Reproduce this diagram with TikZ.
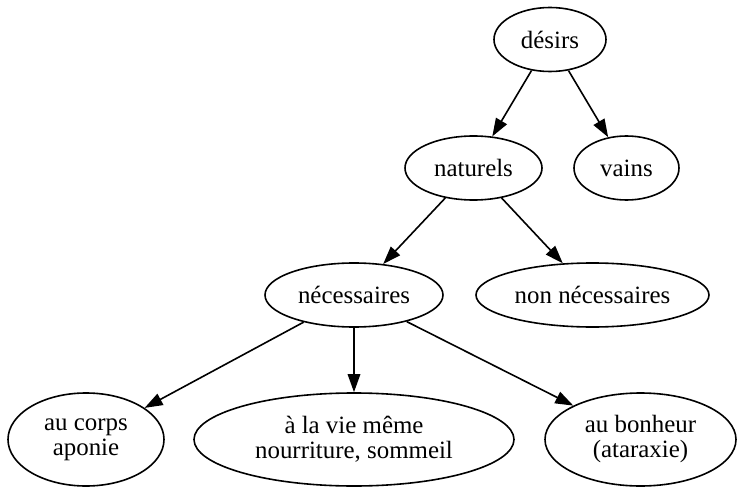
\documentclass[tikz,border=0pt]{standalone}
\usepackage{fontspec}
\setmainfont{Liberation Serif}
\newfontfamily\desirfont{Liberation Serif}
\usetikzlibrary{arrows.meta,shapes.geometric}

\begin{document}
\begin{tikzpicture}
    [ x=1pt, y=-1pt
    , desir/.style={draw, ellipse, inner sep=0pt, line width=1.6pt, align=center, font=\desirfont\fontsize{24.9}{25}\selectfont}
    , wide/.style={minimum width=#1, minimum height=64pt}
    , tall/.style={minimum width=#1, minimum height=93pt}
    , branch/.style={line width=1.6pt, -{Triangle[length=18pt,width=12.5pt]}}
    ]
  \useasboundingbox (0,0) rectangle (737,487);
  % les noeuds
  \node[desir, wide=112pt] (desirs) at (550,39.5) {désirs};
  \node[desir, wide=137pt] (naturels) at (473.5,168) {naturels};
  \node[desir, wide=105pt] (vains) at (626.5,168) {vains};
  \node[desir, wide=178pt] (necessaires) at (354,295) {nécessaires};
  \node[desir, wide=233pt] (nonnecessaires) at (592.5,295) {non nécessaires};
  \node[desir, tall=156pt] (corps) at (86,439.5) {au corps\\aponie};
  \node[desir, tall=320pt] (vie) at (354,439.5) {à la vie même\\nourriture, sommeil};
  \node[desir, tall=191pt] (bonheur) at (640.5,439.5) {au bonheur\\(ataraxie)};
  % les branches
  \draw[branch] (desirs) -- (naturels);
  \draw[branch] (desirs) -- (vains);
  \draw[branch] (naturels) -- (necessaires);
  \draw[branch] (naturels) -- (nonnecessaires);
  \draw[branch] (necessaires) -- (corps);
  \draw[branch] (necessaires) -- (vie);
  \draw[branch] (necessaires) -- (bonheur);
\end{tikzpicture}
\end{document}
